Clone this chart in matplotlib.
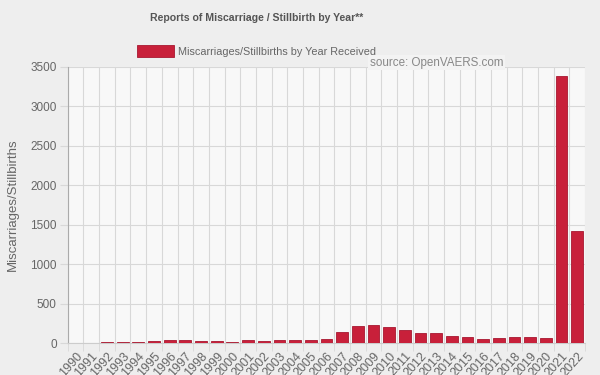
import matplotlib.pyplot as plt
import numpy as np

years = [str(y) for y in range(1990, 2023)]
reports = [5, 7, 20, 15, 15, 22, 45, 35, 25, 30, 20, 38, 30, 45, 42,
           38, 55, 135, 211, 228, 207, 165, 123, 123, 89, 80, 55, 68, 76,
           80, 59, 3385, 1424]

title = 'Reports of Miscarriage / Stillbirth by Year**'
series_label = 'Miscarriages/Stillbirths by Year Received'
y_label = 'Miscarriages/Stillbirths'
source_note = 'source: OpenVAERS.com'

bar_color = '#c8203a'
text_color = '#666666'
grid_color = '#d8d8d8'

plt.rcParams['font.family'] = ['Liberation Sans', 'DejaVu Sans']

fig = plt.figure(figsize=(6.0, 3.75), dpi=100, facecolor='#eeeeee')
ax = fig.add_axes([0.113, 0.085, 0.862, 0.737], facecolor='#f8f8f8')

x = np.arange(len(years))
ax.bar(x, reports, width=0.75, color=bar_color, edgecolor='#a81830',
       linewidth=0.6, label=series_label, zorder=3)

ax.set_xlim(-0.5, len(years) - 0.5)
ax.set_ylim(0, 3500)
ax.set_yticks(np.arange(0, 3501, 500))
ax.set_xticks(x)
ax.set_xticklabels(years, rotation=48, ha='right', rotation_mode='anchor',
                   fontsize=9, color=text_color)
ax.set_xticks(np.arange(-0.5, len(years)), minor=True)
ax.tick_params(axis='x', which='major', length=0, pad=5)
ax.tick_params(axis='x', which='minor', length=6, color=grid_color)
ax.tick_params(axis='y', length=6, color=grid_color, labelsize=8.5,
               labelcolor=text_color, pad=2)
ax.grid(axis='x', which='minor', color=grid_color, linewidth=0.8, zorder=0)
ax.grid(axis='y', which='major', color=grid_color, linewidth=0.8, zorder=0)
ax.set_axisbelow(True)

for side in ['top', 'right']:
    ax.spines[side].set_visible(False)
ax.spines['left'].set_color('#aaaaaa')
ax.spines['bottom'].set_color('#cccccc')

ax.set_ylabel(y_label, fontsize=9.5, color=text_color, labelpad=8)

fig.text(0.427, 0.952, title, ha='center', va='center', fontsize=7.6,
         fontweight='bold', color='#555555')
ax.legend(loc='lower center', bbox_to_anchor=(0.365, 1.0), frameon=False,
          fontsize=7.8, labelcolor=text_color, handlelength=3.4,
          handleheight=1.3, handletextpad=0.4)
ax.text(0.842, 1.015, source_note, transform=ax.transAxes, ha='right',
        va='center', fontsize=8.4, color='#888888',
        bbox=dict(facecolor='#f3f3f3', edgecolor='none', pad=1))

fig.savefig('out.png', dpi=100, facecolor=fig.get_facecolor())
